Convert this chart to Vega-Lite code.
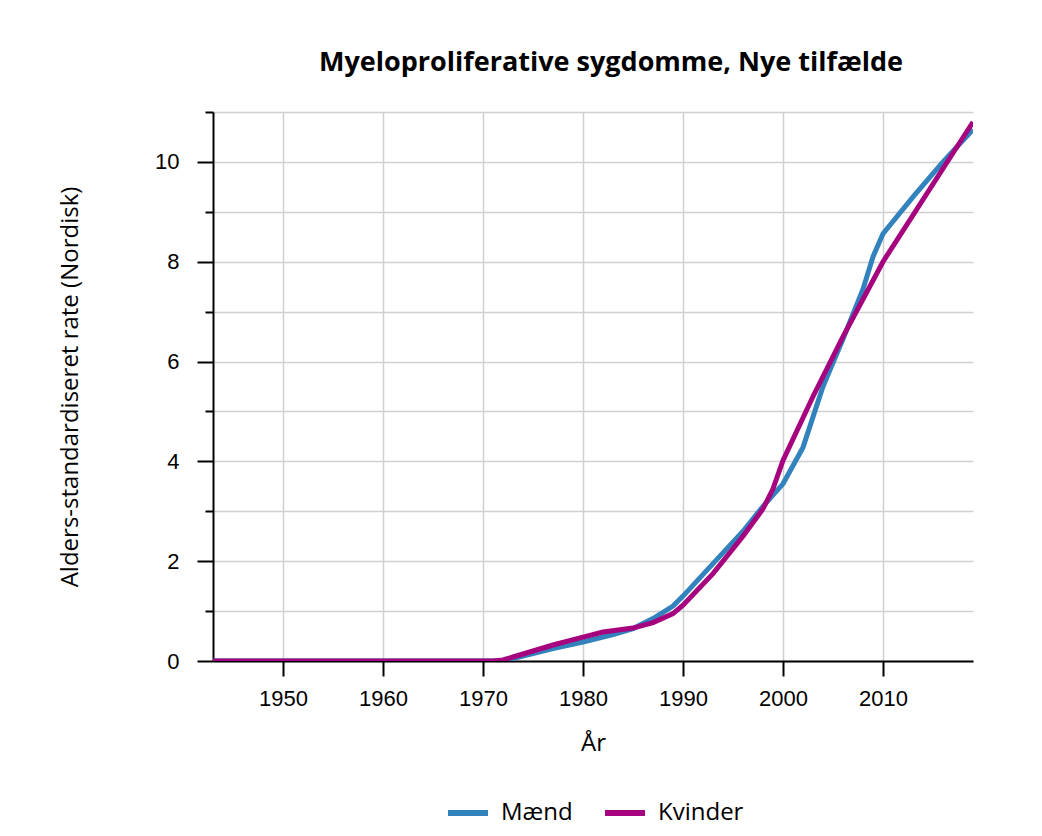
{
  "$schema": "https://vega.github.io/schema/vega-lite/v6.json",
  "autosize": {"type": "none"},
  "width": 760,
  "height": 549,
  "padding": {"left": 213, "top": 112, "right": 70, "bottom": 175},
  "background": "white",
  "title": {
    "text": "Myeloproliferative sygdomme, Nye tilfælde",
    "font": "Open Sans",
    "fontSize": 27,
    "fontWeight": "bold",
    "color": "#000000",
    "anchor": "middle",
    "dx": 18,
    "offset": 34
  },
  "data": {
    "values": [
      {"year": 1943, "rate": 0, "sex": "Mænd"},
      {"year": 1950, "rate": 0, "sex": "Mænd"},
      {"year": 1960, "rate": 0, "sex": "Mænd"},
      {"year": 1970, "rate": 0, "sex": "Mænd"},
      {"year": 1971, "rate": 0, "sex": "Mænd"},
      {"year": 1972, "rate": 0.01, "sex": "Mænd"},
      {"year": 1973, "rate": 0.05, "sex": "Mænd"},
      {"year": 1975, "rate": 0.15, "sex": "Mænd"},
      {"year": 1977, "rate": 0.25, "sex": "Mænd"},
      {"year": 1980, "rate": 0.38, "sex": "Mænd"},
      {"year": 1983, "rate": 0.53, "sex": "Mænd"},
      {"year": 1985, "rate": 0.65, "sex": "Mænd"},
      {"year": 1987, "rate": 0.85, "sex": "Mænd"},
      {"year": 1989, "rate": 1.1, "sex": "Mænd"},
      {"year": 1990, "rate": 1.3, "sex": "Mænd"},
      {"year": 1993, "rate": 1.95, "sex": "Mænd"},
      {"year": 1996, "rate": 2.6, "sex": "Mænd"},
      {"year": 1998, "rate": 3.1, "sex": "Mænd"},
      {"year": 2000, "rate": 3.55, "sex": "Mænd"},
      {"year": 2002, "rate": 4.28, "sex": "Mænd"},
      {"year": 2004, "rate": 5.5, "sex": "Mænd"},
      {"year": 2006, "rate": 6.45, "sex": "Mænd"},
      {"year": 2008, "rate": 7.45, "sex": "Mænd"},
      {"year": 2009, "rate": 8.1, "sex": "Mænd"},
      {"year": 2010, "rate": 8.56, "sex": "Mænd"},
      {"year": 2013, "rate": 9.3, "sex": "Mænd"},
      {"year": 2016, "rate": 10.0, "sex": "Mænd"},
      {"year": 2019, "rate": 10.65, "sex": "Mænd"},
      {"year": 1943, "rate": 0, "sex": "Kvinder"},
      {"year": 1950, "rate": 0, "sex": "Kvinder"},
      {"year": 1960, "rate": 0, "sex": "Kvinder"},
      {"year": 1970, "rate": 0, "sex": "Kvinder"},
      {"year": 1971, "rate": 0, "sex": "Kvinder"},
      {"year": 1972, "rate": 0.02, "sex": "Kvinder"},
      {"year": 1973, "rate": 0.08, "sex": "Kvinder"},
      {"year": 1975, "rate": 0.2, "sex": "Kvinder"},
      {"year": 1977, "rate": 0.32, "sex": "Kvinder"},
      {"year": 1980, "rate": 0.48, "sex": "Kvinder"},
      {"year": 1982, "rate": 0.58, "sex": "Kvinder"},
      {"year": 1985, "rate": 0.66, "sex": "Kvinder"},
      {"year": 1987, "rate": 0.77, "sex": "Kvinder"},
      {"year": 1989, "rate": 0.95, "sex": "Kvinder"},
      {"year": 1990, "rate": 1.12, "sex": "Kvinder"},
      {"year": 1993, "rate": 1.75, "sex": "Kvinder"},
      {"year": 1996, "rate": 2.5, "sex": "Kvinder"},
      {"year": 1998, "rate": 3.05, "sex": "Kvinder"},
      {"year": 1999, "rate": 3.45, "sex": "Kvinder"},
      {"year": 2000, "rate": 4.02, "sex": "Kvinder"},
      {"year": 2003, "rate": 5.3, "sex": "Kvinder"},
      {"year": 2006, "rate": 6.5, "sex": "Kvinder"},
      {"year": 2010, "rate": 8.0, "sex": "Kvinder"},
      {"year": 2019, "rate": 10.8, "sex": "Kvinder"}
    ]
  },
  "mark": {"type": "line", "strokeWidth": 5, "clip": true},
  "encoding": {
    "x": {
      "field": "year",
      "type": "quantitative",
      "scale": {"domain": [1943, 2019], "nice": false, "zero": false},
      "axis": {
        "title": "År",
        "values": [1950, 1960, 1970, 1980, 1990, 2000, 2010],
        "format": "d",
        "tickSize": 15,
        "labelPadding": 12,
        "titlePadding": 22
      }
    },
    "y": {
      "field": "rate",
      "type": "quantitative",
      "scale": {"domain": [0, 11], "nice": false},
      "axis": {
        "title": "Alders-standardiseret rate (Nordisk)",
        "values": [0, 1, 2, 3, 4, 5, 6, 7, 8, 9, 10, 11],
        "labelExpr": "datum.value % 2 === 0 && datum.value <= 10 ? datum.label : ''",
        "tickSize": {"condition": {"test": "datum.value % 2 === 0", "value": 16}, "value": 8},
        "labelPadding": 18,
        "titlePadding": 72
      }
    },
    "color": {
      "field": "sex",
      "type": "nominal",
      "sort": ["Mænd", "Kvinder"],
      "scale": {"domain": ["Mænd", "Kvinder"], "range": ["#3182bd", "#a6037f"]},
      "legend": {
        "title": null,
        "orient": "none",
        "legendX": 232,
        "legendY": 678,
        "direction": "horizontal",
        "symbolType": "stroke",
        "symbolSize": 1600,
        "symbolStrokeWidth": 6,
        "labelFont": "Open Sans",
        "labelFontSize": 24,
        "labelOffset": 10,
        "labelColor": "#000000",
        "columnPadding": 20
      }
    }
  },
  "config": {
    "view": {"stroke": null},
    "axis": {
      "domainColor": "#000000",
      "domainWidth": 2,
      "tickColor": "#000000",
      "tickWidth": 2,
      "gridColor": "#d0d0d0",
      "gridWidth": 1.5,
      "labelFont": "Liberation Sans",
      "labelFontSize": 22,
      "labelColor": "#000000",
      "titleFont": "Open Sans",
      "titleFontSize": 24,
      "titleFontWeight": "normal",
      "titleColor": "#000000"
    }
  }
}
